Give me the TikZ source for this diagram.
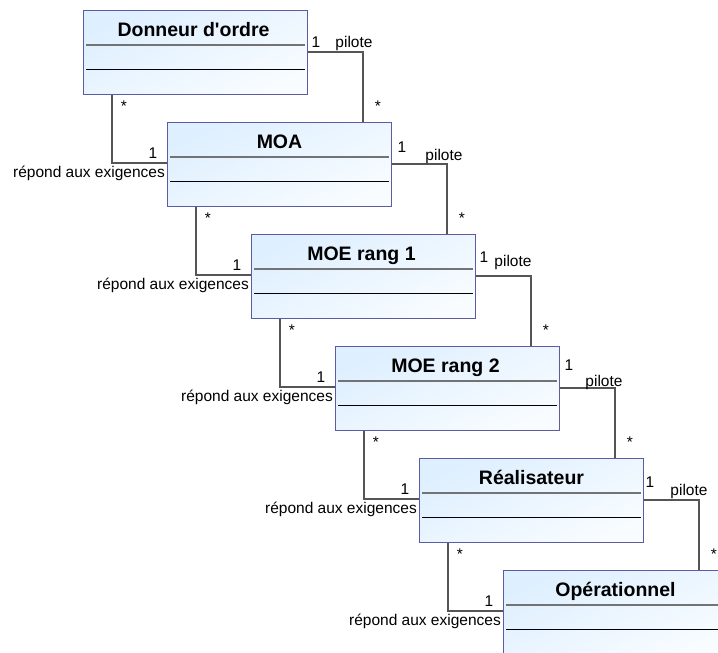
\documentclass[tikz,border=0pt]{standalone}
\usepackage{fontspec}
\setmainfont{Liberation Sans}
\usetikzlibrary{calc}
\definecolor{ClassLine}{RGB}{92,92,162}
\definecolor{ClassTop}{RGB}{222,239,255}
\definecolor{ClassBottom}{RGB}{248,252,255}
\definecolor{SepGray}{RGB}{115,115,115}
\definecolor{AssocGray}{RGB}{85,85,85}

\tikzset{
  umlclass/.style={rectangle, draw=ClassLine, line width=1pt, anchor=north west,
                   minimum width=224pt, minimum height=84pt, inner sep=0pt,
                   top color=ClassTop, bottom color=ClassBottom, shading angle=25},
  classname/.style={font=\fontsize{19.5}{22}\selectfont\bfseries, anchor=base, inner sep=0pt},
  assoc/.style={draw=AssocGray, line width=1.1pt},
  mult/.style={font=\fontsize{15.5}{17}\selectfont, inner sep=0pt},
}

\begin{document}
\begin{tikzpicture}[x=1pt, y=-1pt]
  \useasboundingbox (0,0) rectangle (718,653);

  % classes, one step down and right each time
  \node[umlclass] (donneur) at (83,10)  {};
  \node[umlclass] (moa)     at (167,122) {};
  \node[umlclass] (moe1)    at (251,234) {};
  \node[umlclass] (moe2)    at (335,346) {};
  \node[umlclass] (real)    at (419,458) {};
  \node[umlclass] (oper)    at (503,570) {};

  % class names
  \node[classname] (donneurT) at ($(donneur.north)+(-2,26)$) {Donneur d\textquotesingle ordre};
  \node[classname] (moaT)     at ($(moa.north)+(0,26)$)     {MOA};
  \node[classname] (moe1T)    at ($(moe1.north)+(-2,26)$)   {MOE rang 1};
  \node[classname] (moe2T)    at ($(moe2.north)+(-2,26)$)   {MOE rang 2};
  \node[classname] (realT)    at ($(real.north)+(0,26)$)    {Réalisateur};
  \node[classname] (operT)    at ($(oper.north)+(0,26)$)    {Opérationnel};

  % compartment lines
  \foreach \c in {donneur,moa,moe1,moe2,real,oper} {
    \draw[SepGray, line width=1.6pt] ($(\c.north west)+(3,35)$) -- ($(\c.north east)+(-3,35)$);
    \draw[black, line width=0.9pt]   ($(\c.north west)+(3,59)$) -- ($(\c.north east)+(-3,59)$);
  }

  % associations between each class and the next one
  \foreach \up/\lo/\ox/\oy/\px/\py in {donneur/moa/8/32/46/33, moa/moe1/10/25/52/34,
                                      moe1/moe2/8/23/37/28, moe2/real/9/19/44/36,
                                      real/oper/6/24/45/33} {
    % pilote
    \draw[assoc] ($(\up.north east)+(0,42)$) -| ($(\lo.north west)+(196,0)$);
    \node[mult] (\up-one) at ($(\up.north east)+(\ox,\oy)$) {1};
    \node[mult] (\up-pil) at ($(\up.north east)+(\px,\py)$) {pilote};
    \node[mult] (\lo-star) at ($(\lo.north west)+(211,-16)$) {*};
    % repond aux exigences
    \draw[assoc] ($(\up.south west)+(29,0)$) |- ($(\lo.north west)+(0,41)$);
    \node[mult] (\up-star) at ($(\up.south west)+(41,11)$) {*};
    \node[mult] (\lo-one) at ($(\lo.north west)+(-14,31)$) {1};
    \node[mult, anchor=east] (\lo-rep) at ($(\lo.north west)+(-2,51)$) {répond aux exigences};
  }
\end{tikzpicture}
\end{document}
